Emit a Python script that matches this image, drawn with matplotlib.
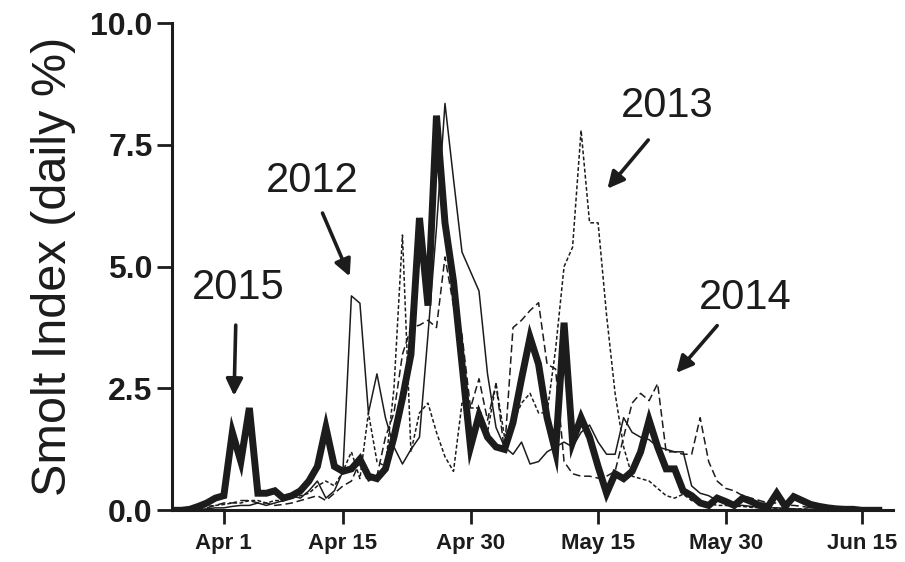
import numpy as np
import matplotlib.pyplot as plt

plt.rcParams['font.family'] = ['Liberation Sans', 'DejaVu Sans']

# day number, 0 = Apr 1 (runs from Mar 26 to Jun 16)
days = np.arange(-6, 78)

y2015 = [0.0, 0.0, 0.02, 0.08, 0.15, 0.25,
         0.3, 1.6, 1.0, 2.1, 0.35, 0.35, 0.4, 0.25, 0.3, 0.4,
         0.6, 0.9, 1.7, 0.9, 0.8, 0.85, 1.05, 0.7, 0.65, 0.85,
         1.5, 2.3, 3.2, 6.0, 4.2, 8.1, 5.9, 4.7, 3.0, 1.3,
         1.95, 1.5, 1.3, 1.25, 1.8, 2.7, 3.55, 3.0, 1.9, 1.2,
         3.85, 1.4, 1.9, 1.5, 0.9, 0.35, 0.75, 0.65, 0.8, 1.2,
         1.85, 1.3, 0.85, 0.85, 0.4, 0.3, 0.15, 0.1, 0.25, 0.18,
         0.1, 0.25, 0.18, 0.1, 0.08, 0.35, 0.08, 0.28, 0.2, 0.12,
         0.08, 0.05, 0.03, 0.02, 0.02, 0.0, 0.0, 0.0]

y2012 = [0.0, 0.0, 0.0, 0.02, 0.03, 0.05,
         0.05, 0.08, 0.1, 0.1, 0.15, 0.1, 0.15, 0.2, 0.3, 0.25,
         0.4, 0.6, 0.25, 0.4, 0.8, 4.4, 4.25, 2.0, 2.8, 1.9,
         1.3, 0.95, 1.25, 1.5, 3.6, 5.8, 8.35, 6.8, 5.3, 4.9,
         4.5, 2.8, 1.7, 1.3, 1.15, 1.4, 0.95, 1.0, 1.2, 1.3,
         1.4, 1.3, 1.6, 1.75, 1.4, 1.15, 1.15, 1.9, 1.6, 1.5,
         1.45, 1.3, 1.25, 1.2, 1.2, 0.5, 0.35, 0.3, 0.2, 0.15,
         0.1, 0.1, 0.08, 0.06, 0.05, 0.05, 0.04, 0.03, 0.02, 0.02,
         0.02, 0.01, 0.01, 0.01, 0.05, 0.0, 0.0, 0.0]

y2013 = [0.0, 0.0, 0.02, 0.05, 0.08, 0.1,
         0.12, 0.15, 0.15, 0.2, 0.2, 0.15, 0.2, 0.2, 0.25, 0.3,
         0.35, 0.5, 0.6, 0.5, 0.8, 1.2, 0.65, 2.0, 1.0, 0.9,
         2.5, 5.65, 1.2, 2.0, 2.2, 1.6, 1.1, 0.8, 2.2, 2.1,
         2.1, 1.6, 2.6, 1.5, 1.8, 2.2, 2.4, 2.0, 2.0, 3.3,
         5.0, 5.4, 7.8, 5.9, 5.9, 4.0, 2.4, 1.3, 0.7, 0.65,
         0.6, 0.45, 0.3, 0.25, 0.33, 0.2, 0.15, 0.15, 0.1, 0.1,
         0.08, 0.08, 0.06, 0.05, 0.05, 0.04, 0.04, 0.03, 0.03, 0.02,
         0.02, 0.02, 0.01, 0.01, 0.0, 0.0, 0.0, 0.0]

y2014 = [0.0, 0.0, 0.0, 0.02, 0.05, 0.1,
         0.15, 0.15, 0.2, 0.2, 0.15, 0.15, 0.1, 0.12, 0.15, 0.2,
         0.25, 0.3, 0.2, 0.35, 0.5, 0.6, 1.0, 0.6, 0.7, 1.5,
         2.0, 3.2, 3.75, 3.8, 3.9, 3.75, 5.2, 4.2, 3.6, 2.1,
         2.7, 1.85, 2.6, 1.2, 3.75, 3.9, 4.1, 4.26, 3.0, 2.9,
         1.0, 0.75, 0.7, 0.7, 0.66, 0.7, 0.8, 1.5, 2.2, 2.4,
         2.25, 2.6, 1.2, 1.2, 1.15, 1.15, 1.9, 1.0, 0.6, 0.45,
         0.4, 0.3, 0.25, 0.2, 0.15, 0.15, 0.1, 0.1, 0.08, 0.05,
         0.05, 0.03, 0.02, 0.02, 0.01, 0.0, 0.0, 0.0]

tick_days = [0, 14, 29, 44, 59, 75]
tick_labels = ['Apr 1', 'Apr 15', 'Apr 30', 'May 15', 'May 30', 'Jun 15']

ink = '#1c1c1c'

fig = plt.figure(figsize=(9.05, 5.62), dpi=100)
ax = fig.add_axes([0.19, 0.092, 0.797, 0.867])

ax.plot(days, y2014, color=ink, lw=1.1, ls=(0, (5, 2.5)))
ax.plot(days, y2013, color=ink, lw=1.1, ls=(0, (2.5, 1.5)))
ax.plot(days, y2012, color=ink, lw=1.1, ls='-')
ax.plot(days, y2015, color=ink, lw=5.0, ls='-', solid_joinstyle='miter')

ax.set_xlim(-6.1, 78.7)
ax.set_ylim(0, 10)
ax.set_yticks([0, 2.5, 5.0, 7.5, 10.0])
ax.set_yticklabels(['0.0', '2.5', '5.0', '7.5', '10.0'])
ax.set_xticks(tick_days)
ax.set_xticklabels(tick_labels)

for s in ['top', 'right']:
    ax.spines[s].set_visible(False)
for s in ['left', 'bottom']:
    ax.spines[s].set_linewidth(2.2)
    ax.spines[s].set_color(ink)

ax.tick_params(axis='y', length=11, width=2, color=ink, pad=3,
               labelsize=23, labelcolor=ink)
ax.tick_params(axis='x', length=10, width=2, color=ink, pad=6,
               labelsize=16, labelcolor=ink)
for lab in ax.get_xticklabels() + ax.get_yticklabels():
    lab.set_fontweight('bold')

ax.set_ylabel('Smolt Index (daily %)', fontsize=35, color=ink, labelpad=10)

arrow = dict(arrowstyle='-|>,head_length=1.0,head_width=0.5', lw=2.6, color=ink,
             shrinkA=0, shrinkB=0)
notes = [('2015', (1.65, 4.57), (1.4, 3.8), (1.2, 2.35)),
         ('2012', (10.35, 6.75), (11.6, 6.1), (14.8, 4.8)),
         ('2013', (52.1, 8.3), (49.9, 7.6), (45.1, 6.6)),
         ('2014', (61.3, 4.36), (58.0, 3.79), (53.2, 2.82))]
for txt, tpos, a0, a1 in notes:
    ax.text(tpos[0], tpos[1], txt, fontsize=30, ha='center', va='center', color=ink)
    ax.annotate('', xy=a1, xytext=a0, arrowprops=arrow)

fig.savefig('out.png', dpi=100)
